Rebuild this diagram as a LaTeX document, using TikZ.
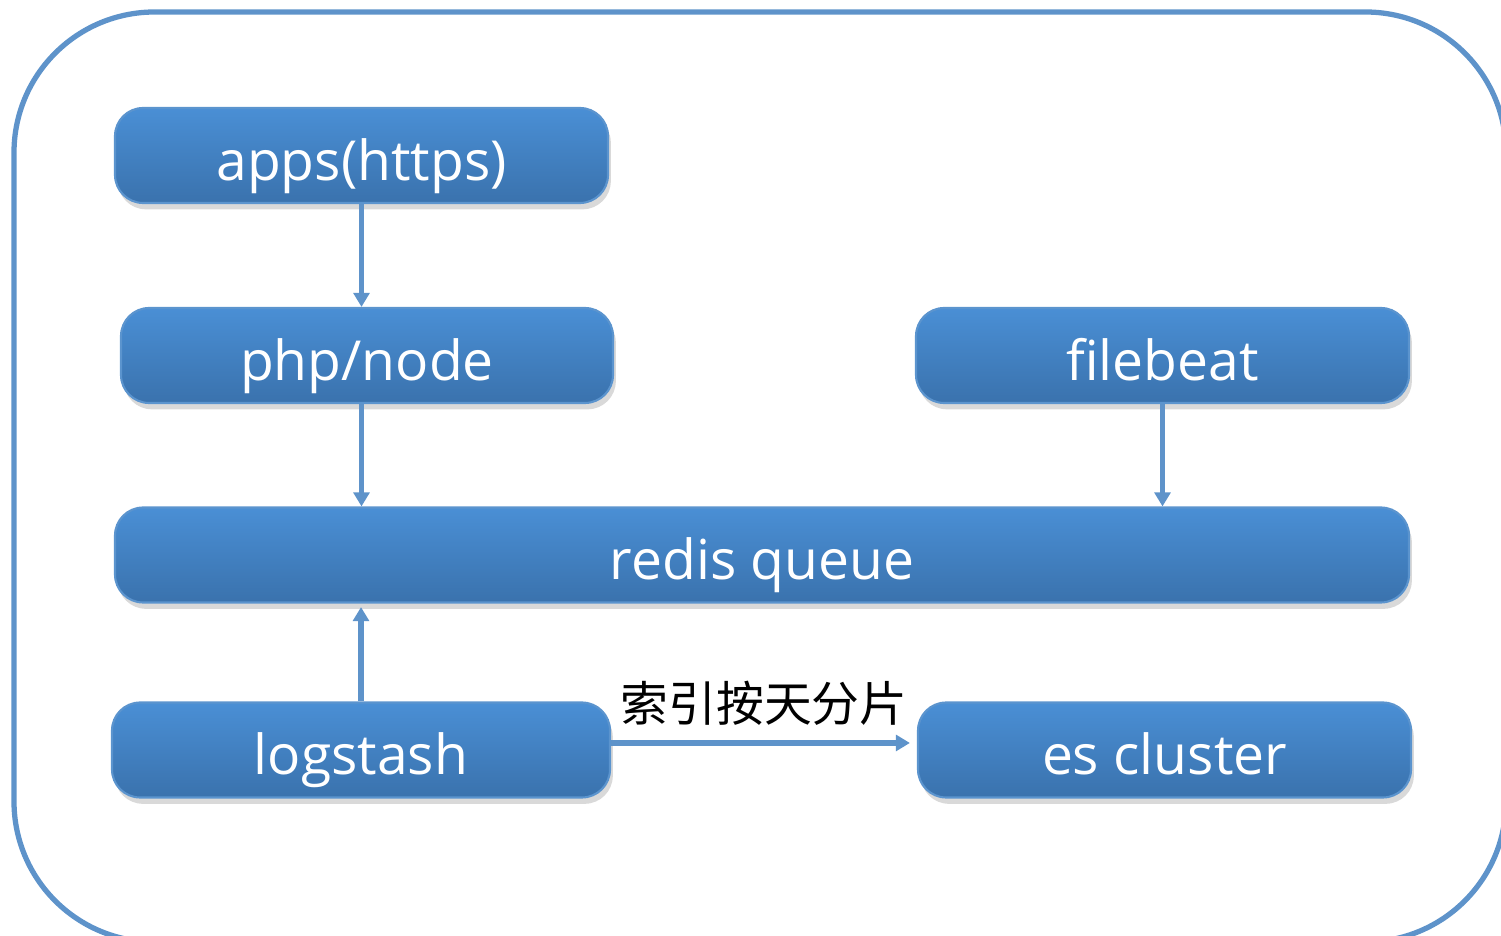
\documentclass[tikz,border=0pt]{standalone}
\usepackage{fontspec}
\setmainfont{Open Sans}
\newfontfamily\cjkfont{Noto Sans CJK SC}
\usetikzlibrary{arrows.meta,shadows}

\definecolor{framecol}{HTML}{5E93CA}
\definecolor{boxtop}{HTML}{4A8FD5}
\definecolor{boxbot}{HTML}{3A72AD}
\definecolor{boxedge}{HTML}{5B94CE}
\definecolor{flowcol}{HTML}{5E93CA}

\tikzset{
  stage/.style={rounded corners=8pt, top color=boxtop, bottom color=boxbot,
    draw=boxedge, line width=0.6pt, text=white, font=\fontsize{15.7}{18}\selectfont,
    minimum height=0.95cm, inner sep=0pt, text height=14pt, text depth=0pt,
    drop shadow={opacity=0.3, shadow xshift=0.8pt, shadow yshift=-1.8pt}},
  flow/.style={flowcol, line width=1.5pt,
    -{Triangle[width=4.5pt, length=4pt]}},
}

\begin{document}
\begin{tikzpicture}

\useasboundingbox (0,0) rectangle (15.01,-9.36);

% outer frame
\begin{scope}
\clip (0,0) rectangle (15.01,-9.36);
\draw[framecol, line width=1.5pt, rounded corners=40pt] (0.14,-0.12) rectangle (15.06,-9.42);
\end{scope}

\node[stage, minimum width=4.93cm] (apps) at (3.615, -1.555) {apps(https)};
\node[stage, minimum width=4.92cm] (php) at (3.67, -3.555) {php/node};
\node[stage, minimum width=4.93cm] (filebeat) at (11.625, -3.555) {filebeat};
\node[stage, minimum width=12.94cm] (redis) at (7.62, -5.55) {redis queue};
\node[stage, minimum width=4.98cm] (logstash) at (3.61, -7.50) {logstash};
\node[stage, minimum width=4.93cm] (es) at (11.645, -7.50) {es cluster};

\draw[flow] (apps.south) -- (apps.south |- php.north);
\draw[flow] (php.south -| apps.south) -- (apps.south |- redis.north);
\draw[flow] (filebeat.south) -- (filebeat.south |- redis.north);
\draw[flow, shorten >=1pt] (logstash.north) -- (logstash.north |- redis.south);
\draw[flow, shorten >=2pt] ([yshift=2pt]logstash.east) -- ([yshift=2pt]es.west)
  node[midway, above=1pt, text=black, font=\cjkfont\fontsize{13.6}{16}\selectfont] (shard) {索引按天分片};

\end{tikzpicture}
\end{document}
